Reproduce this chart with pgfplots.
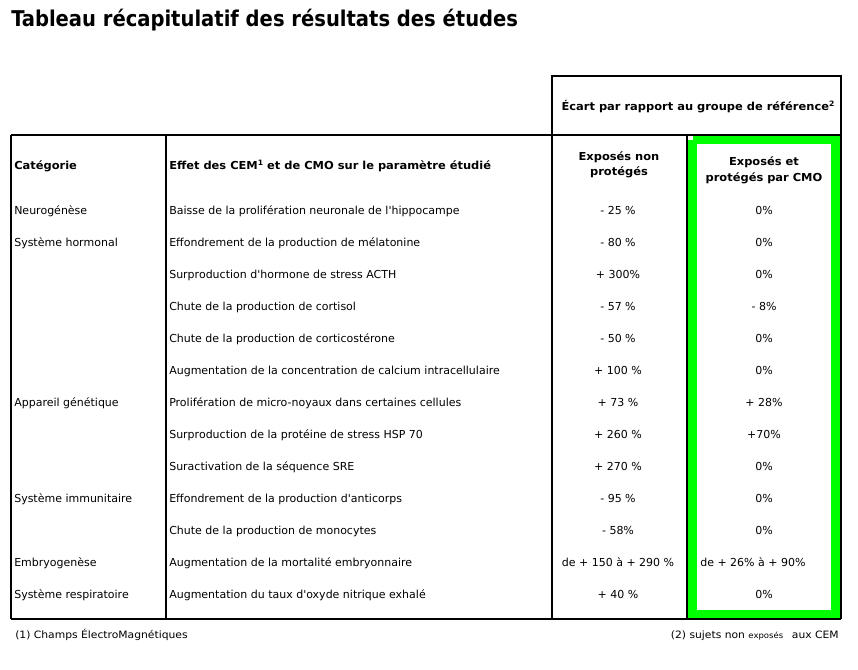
\documentclass[border=0pt]{standalone}
\usepackage{fontspec}
\setmainfont{DejaVu Sans}[Ligatures=TeXOff]
\newfontfamily\hdfont{DejaVu Sans Bold}[FakeStretch=1.04]
\newfontfamily\titlefont{DejaVu Sans Condensed Bold}
\newfontfamily\notefont{DejaVu Sans Condensed}[FakeStretch=1.18]
\usepackage{pgfplots}
\pgfplotsset{compat=1.18}
\definecolor{cmogreen}{HTML}{00FF00}
\newcommand{\body}{\fontsize{8.25}{10}\selectfont}
\newcommand{\hd}{\hdfont\fontsize{8.25}{10}\selectfont}
\newcommand{\supnote}[1]{\raisebox{0.55ex}{\fontsize{5.5}{6}\selectfont #1}}
\begin{document}
\begin{tikzpicture}
\begin{axis}[
  width=643.5pt, height=501.75pt, scale only axis,
  xmin=0, xmax=858, ymin=0, ymax=669, y dir=reverse,
  hide axis, clip=false,
  every axis plot/.append style={mark=none},
  nodes={inner sep=0pt, font=\body}]
\path[fill=white] (axis cs:0,0) rectangle (axis cs:858,669);
% cadre vert
\addplot[draw=cmogreen, line width=7.2pt] coordinates {(692.5,139.5) (835.5,139.5) (835.5,614.5) (692.5,614.5) (692.5,139.5)};
% filets
\addplot[black, line width=1.1pt] coordinates {(552,619) (552,76) (841,76) (841,619)};
\addplot[black, line width=1.1pt] coordinates {(11,135) (841,135)};
\addplot[black, line width=1.1pt] coordinates {(11,619) (841,619)};
\addplot[black, line width=1.1pt] coordinates {(11,135) (11,619)};
\addplot[black, line width=1.1pt] coordinates {(166,135) (166,619)};
\addplot[black, line width=1.1pt] coordinates {(687,135) (687,619)};
% titre
\node[anchor=base west, font=\titlefont\fontsize{16.3}{19}\selectfont] at (axis cs:11,26) {Tableau récapitulatif des résultats des études};
% en-tetes
\node[anchor=base, font=\hd] at (axis cs:698,110) {Écart par rapport au groupe de référence\supnote{2}};
\node[anchor=base west, font=\hd] at (axis cs:14,169) {Catégorie};
\node[anchor=base west, font=\hd] at (axis cs:169,169) {Effet des CEM\supnote{1} et de CMO sur le paramètre étudié};
\node[anchor=base, font=\hd] at (axis cs:619,160) {Exposés non};
\node[anchor=base, font=\hd] at (axis cs:619,175) {protégés};
\node[anchor=base, font=\hd] at (axis cs:764,165) {Exposés et};
\node[anchor=base, font=\hd] at (axis cs:764,181) {protégés par CMO};
% categories
\node[anchor=base west] at (axis cs:14,214) {Neurogénèse};
\node[anchor=base west] at (axis cs:14,246) {Système hormonal};
\node[anchor=base west] at (axis cs:14,406) {Appareil génétique};
\node[anchor=base west] at (axis cs:14,502) {Système immunitaire};
\node[anchor=base west] at (axis cs:14,566) {Embryogenèse};
\node[anchor=base west] at (axis cs:14,598) {Système respiratoire};
% effets
\node[anchor=base west] at (axis cs:169,214) {Baisse de la prolifération neuronale de l'hippocampe};
\node[anchor=base west] at (axis cs:169,246) {Effondrement de la production de mélatonine};
\node[anchor=base west] at (axis cs:169,278) {Surproduction d'hormone de stress ACTH};
\node[anchor=base west] at (axis cs:169,310) {Chute de la production de cortisol};
\node[anchor=base west] at (axis cs:169,342) {Chute de la production de corticostérone};
\node[anchor=base west] at (axis cs:169,374) {Augmentation de la concentration de calcium intracellulaire};
\node[anchor=base west] at (axis cs:169,406) {Prolifération de micro-noyaux dans certaines cellules};
\node[anchor=base west] at (axis cs:169,438) {Surproduction de la protéine de stress HSP 70};
\node[anchor=base west] at (axis cs:169,470) {Suractivation de la séquence SRE};
\node[anchor=base west] at (axis cs:169,502) {Effondrement de la production d'anticorps};
\node[anchor=base west] at (axis cs:169,534) {Chute de la production de monocytes};
\node[anchor=base west] at (axis cs:169,566) {Augmentation de la mortalité embryonnaire};
\node[anchor=base west] at (axis cs:169,598) {Augmentation du taux d'oxyde nitrique exhalé};
% exposes non proteges
\node[anchor=base] at (axis cs:618,214) {- 25 \%};
\node[anchor=base] at (axis cs:618,246) {- 80 \%};
\node[anchor=base] at (axis cs:618,278) {+ 300\%};
\node[anchor=base] at (axis cs:618,310) {- 57 \%};
\node[anchor=base] at (axis cs:618,342) {- 50 \%};
\node[anchor=base] at (axis cs:618,374) {+ 100 \%};
\node[anchor=base] at (axis cs:618,406) {+ 73 \%};
\node[anchor=base] at (axis cs:618,438) {+ 260 \%};
\node[anchor=base] at (axis cs:618,470) {+ 270 \%};
\node[anchor=base] at (axis cs:618,502) {- 95 \%};
\node[anchor=base] at (axis cs:618,534) {- 58\%};
\node[anchor=base] at (axis cs:618,566) {de + 150 à + 290 \%};
\node[anchor=base] at (axis cs:618,598) {+ 40 \%};
% exposes proteges par CMO
\node[anchor=base] at (axis cs:764,214) {0\%};
\node[anchor=base] at (axis cs:764,246) {0\%};
\node[anchor=base] at (axis cs:764,278) {0\%};
\node[anchor=base] at (axis cs:764,310) {- 8\%};
\node[anchor=base] at (axis cs:764,342) {0\%};
\node[anchor=base] at (axis cs:764,374) {0\%};
\node[anchor=base] at (axis cs:764,406) {+ 28\%};
\node[anchor=base] at (axis cs:764,438) {+70\%};
\node[anchor=base] at (axis cs:764,470) {0\%};
\node[anchor=base] at (axis cs:764,502) {0\%};
\node[anchor=base] at (axis cs:764,534) {0\%};
\node[anchor=base west] at (axis cs:700,566) {de + 26\% à + 90\%};
\node[anchor=base] at (axis cs:764,598) {0\%};
% notes
\node[anchor=base west, font=\notefont\fontsize{7.6}{9}\selectfont] at (axis cs:15,638) {(1) Champs ÉlectroMagnétiques};
\node[anchor=base east, font=\notefont\fontsize{7.6}{9}\selectfont] at (axis cs:839,638) {(2) sujets non {\fontsize{6}{7}\selectfont exposés}\hspace{4pt} aux CEM};
\end{axis}
\end{tikzpicture}
\end{document}
